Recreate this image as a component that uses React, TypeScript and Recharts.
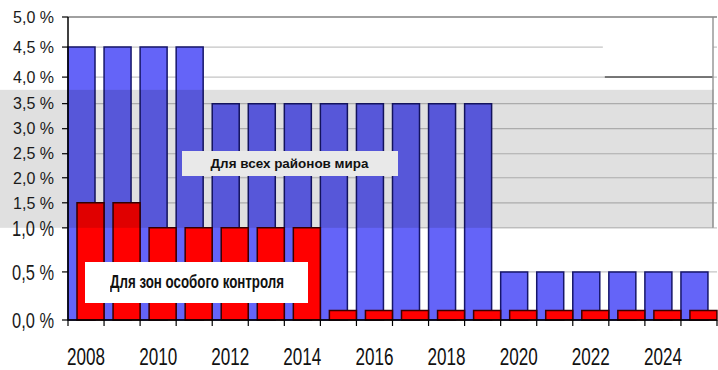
import React from 'react';
import { BarChart, Bar, XAxis, YAxis, CartesianGrid, ReferenceArea, ReferenceLine } from 'recharts';

const YEARS = [
  '2008', '2009', '2010', '2011', '2012', '2013', '2014', '2015', '2016',
  '2017', '2018', '2019', '2020', '2021', '2022', '2023', '2024', '2025',
];
// sulphur limit for all sea areas, %
const WORLD_LIMIT = [4.5, 4.5, 4.5, 4.5, 3.5, 3.5, 3.5, 3.5, 3.5, 3.5, 3.5, 3.5, 0.5, 0.5, 0.5, 0.5, 0.5, 0.5];
// sulphur limit inside emission control areas, %
const ECA_LIMIT = [1.5, 1.5, 1.0, 1.0, 1.0, 1.0, 1.0, 0.1, 0.1, 0.1, 0.1, 0.1, 0.1, 0.1, 0.1, 0.1, 0.1, 0.1];

const Y_TICKS = [0, 0.5, 1, 1.5, 2, 2.5, 3, 3.5, 4, 4.5, 5];
// the axis is not evenly spaced: where each tick sits, in px above the baseline
const Y_TICK_POS = [0, 48, 92, 117, 142, 166, 191, 216, 242.5, 272.5, 302.5];

const BAND_FROM = 1.0;
const BAND_TO = 3.76;

const WORLD_LABEL = 'Для всех районов мира';
const ECA_LABEL = 'Для зон особого контроля';

const W = 718;
const H = 370;
const MARGIN = { top: 17, right: 1, bottom: 0, left: 0 };
const Y_AXIS_W = 68;
const X_AXIS_H = 50;
const PLOT_BOTTOM = H - MARGIN.bottom - X_AXIS_H;
const HALF_BAND = (W - Y_AXIS_W - MARGIN.right) / YEARS.length / 2;

const SANS = '"Liberation Sans", Arial, sans-serif';

// piecewise-linear map from percent to the stretched axis units
const stretch = (v: number) => {
  for (let i = 1; i < Y_TICKS.length; i++) {
    if (v <= Y_TICKS[i]) {
      const t = (v - Y_TICKS[i - 1]) / (Y_TICKS[i] - Y_TICKS[i - 1]);
      return Y_TICK_POS[i - 1] + t * (Y_TICK_POS[i] - Y_TICK_POS[i - 1]);
    }
  }
  return Y_TICK_POS[Y_TICK_POS.length - 1];
};

const rows = YEARS.map((year, i) => ({
  year,
  world: stretch(WORLD_LIMIT[i]),
  eca: stretch(ECA_LIMIT[i]),
}));

const YTick = (props: any) => {
  const { x, y, payload } = props;
  const v = Y_TICKS[Y_TICK_POS.indexOf(payload.value)];
  const low = v <= 1;
  // the lower labels are drawn taller and squeezed
  return (
    <text
      x={x}
      y={y}
      dy="0.36em"
      textAnchor="end"
      fontSize={low ? 22 : 16}
      fontFamily={SANS}
      fill="#1a1a1a"
      textLength={low ? 42 : undefined}
      lengthAdjust="spacingAndGlyphs"
    >
      {v.toFixed(1).replace('.', ',') + ' %'}
    </text>
  );
};

// ticks sit on category borders, labels on every second year
const XTick = (props: any) => {
  const { x, payload, index } = props;
  const half = payload?.offset || HALF_BAND;
  const last = index === YEARS.length - 1;
  return (
    <g>
      <line x1={x - half} x2={x - half} y1={PLOT_BOTTOM} y2={PLOT_BOTTOM + 6} stroke="#000" strokeWidth={1.2} />
      {last && (
        <line x1={x + half} x2={x + half} y1={PLOT_BOTTOM} y2={PLOT_BOTTOM + 6} stroke="#000" strokeWidth={1.2} />
      )}
      {index % 2 === 0 && (
        <text
          x={x}
          y={PLOT_BOTTOM + 45}
          textAnchor="middle"
          fontSize={24}
          fontFamily={SANS}
          fill="#111"
          textLength={38}
          lengthAdjust="spacingAndGlyphs"
        >
          {payload.value}
        </text>
      )}
    </g>
  );
};

const GreyBand = (p: any) => (
  <g>
    <rect x={0} y={p.y} width={p.x + p.width - 4} height={p.height} fill="#000" fillOpacity={0.12} />
    <line x1={p.x + p.width - 4} x2={p.x + p.width - 4} y1={p.y} y2={p.y + p.height} stroke="#8c8c8c" strokeWidth={1.5} />
  </g>
);

const TopCorner = (p: any) => {
  const right = p.x + p.width - 4;
  return (
    <g>
      <rect x={p.x - 6} y={p.y + 2} width={p.width + 2} height={p.height - 5} fill="#fff" />
      <line x1={p.x - 4} x2={right} y1={p.y + p.height} y2={p.y + p.height} stroke="#555" strokeWidth={1.5} />
      <line x1={right} x2={right} y1={p.y} y2={p.y + p.height + 13} stroke="#999" strokeWidth={1.5} />
    </g>
  );
};

export default function App() {
  return (
    <div style={{ position: 'absolute', left: 0, top: 0, width: W, height: H, background: '#fff', fontFamily: SANS }}>
      <BarChart width={W} height={H} data={rows} margin={MARGIN} barGap={-18} barSize={27}>
        <CartesianGrid vertical={false} stroke="#c4c4c4" strokeWidth={1.2} />
        <XAxis
          dataKey="year"
          height={X_AXIS_H}
          interval={0}
          tickLine={false}
          axisLine={{ stroke: '#000', strokeWidth: 1.5 }}
          tick={<XTick />}
        />
        <YAxis
          type="number"
          width={Y_AXIS_W}
          domain={[0, Y_TICK_POS[Y_TICK_POS.length - 1]]}
          ticks={Y_TICK_POS}
          interval={0}
          tickSize={6}
          tickMargin={8}
          tickLine={{ stroke: '#000', strokeWidth: 1.2 }}
          axisLine={{ stroke: '#000', strokeWidth: 1.5 }}
          tick={<YTick />}
        />
        <Bar dataKey="world" fill="#6464f8" stroke="#16166a" strokeWidth={1.5} isAnimationActive={false} />
        <Bar dataKey="eca" fill="#ff0000" stroke="#3a0000" strokeWidth={1.5} isAnimationActive={false} />
        <ReferenceLine y={Y_TICK_POS[Y_TICK_POS.length - 1]} stroke="#8a8a8a" strokeWidth={1.5} />
        <ReferenceArea
          y1={stretch(BAND_FROM)}
          y2={stretch(BAND_TO)}
          shape={<GreyBand />}
          zIndex={350}
        />
        <ReferenceArea
          x1="2023"
          x2="2025"
          y1={stretch(4)}
          y2={stretch(5)}
          shape={<TopCorner />}
          zIndex={350}
        />
      </BarChart>
      <div
        style={{
          position: 'absolute', left: 182, top: 151, width: 216, height: 25,
          background: '#e9e9e9', display: 'flex', alignItems: 'center', justifyContent: 'center',
          fontSize: 12, fontWeight: 'bold', color: '#111', whiteSpace: 'nowrap',
        }}
      >
        <span style={{ display: 'inline-block', transform: 'scaleX(1.12)' }}>{WORLD_LABEL}</span>
      </div>
      <div
        style={{
          position: 'absolute', left: 85, top: 262, width: 223, height: 41,
          background: '#fff', display: 'flex', alignItems: 'center', boxSizing: 'border-box', paddingLeft: 25,
          fontSize: 18, fontWeight: 'bold', color: '#111', whiteSpace: 'nowrap',
        }}
      >
        <span style={{ display: 'inline-block', transform: 'scaleX(0.74)', transformOrigin: 'left center' }}>
          {ECA_LABEL}
        </span>
      </div>
    </div>
  );
}
